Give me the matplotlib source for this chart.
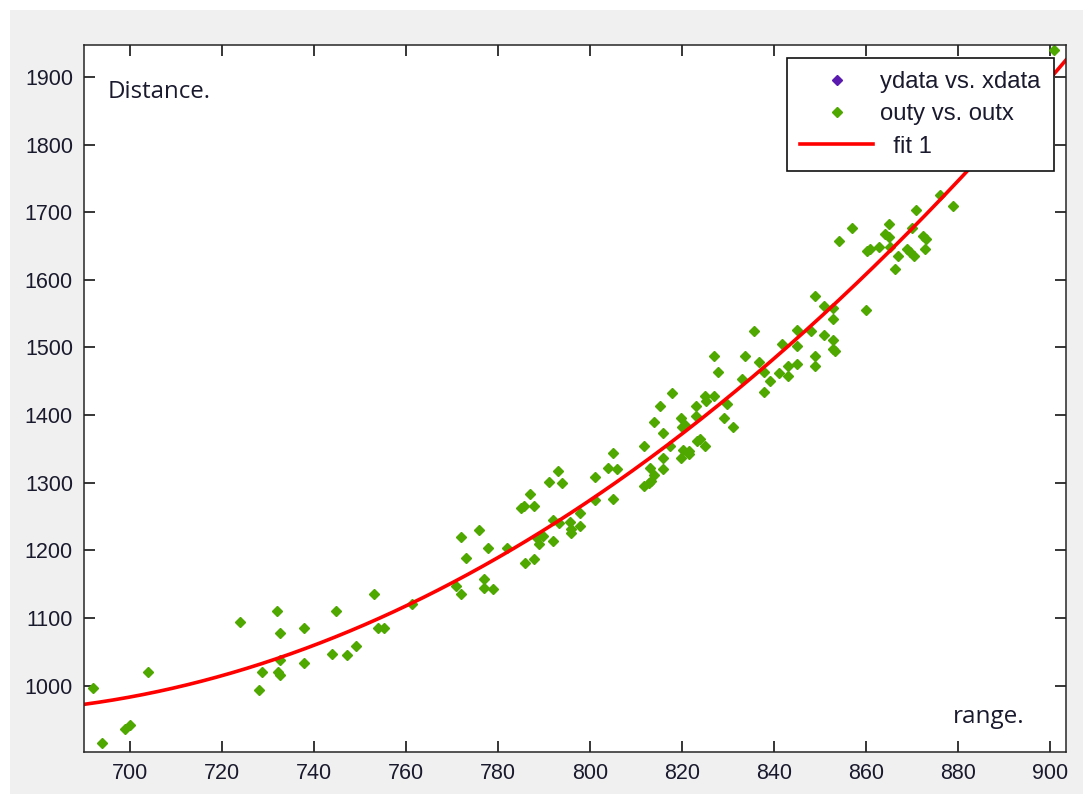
import numpy as np
import matplotlib.pyplot as plt
from matplotlib.patches import Rectangle

# points plotted as "outy vs. outx"
outx = [691.9, 694.0, 698.9, 700.0, 704.0, 723.9, 731.9, 732.6, 728.0, 728.7,
        732.6, 732.6, 732.2, 737.9, 737.9, 744.0, 744.7, 747.1, 749.1, 753.0,
        754.0, 755.2, 761.2, 771.9, 775.9, 773.0, 777.9, 777.0, 777.0, 779.0,
        770.9, 771.9, 781.9, 785.9, 787.9, 789.0, 789.8, 791.9, 788.4, 791.9,
        793.3, 785.0, 785.7, 787.9, 787.0, 791.0, 793.0, 793.8, 795.7, 795.8,
        797.8, 797.8, 795.8, 801.0, 801.0, 803.8, 805.8, 804.9, 804.9, 811.8,
        813.8, 815.8, 813.0, 813.8, 811.7, 812.7, 813.2, 815.8, 815.8, 817.4,
        819.7, 819.9, 820.3, 821.4, 815.1, 817.8, 819.7, 821.6, 820.7, 823.0,
        823.0, 823.2, 823.8, 825.0, 824.9, 825.2, 827.0, 827.0, 827.7, 829.0,
        829.7, 831.0, 833.0, 833.7, 835.7, 836.8, 837.7, 837.7, 839.0, 841.0,
        841.7, 843.0, 843.0, 844.9, 844.9, 844.9, 848.0, 848.9, 848.9, 850.9,
        852.9, 852.9, 852.9, 852.9, 853.3, 850.9, 860.0, 900.9, 876.1, 878.8,
        870.9, 864.9, 856.9, 854.2, 864.1, 864.9, 862.9, 860.1, 860.9, 865.2,
        869.9, 872.3, 873.0, 872.8, 866.9, 868.8, 869.6, 870.3, 866.2, 848.9]
outy = [996, 915, 936, 942, 1020, 1094, 1110, 1078, 993, 1020,
        1038, 1016, 1020, 1085, 1033, 1047, 1110, 1045, 1058, 1135,
        1085, 1085, 1121, 1220, 1230, 1189, 1203, 1157, 1145, 1143,
        1147, 1135, 1204, 1181, 1187, 1210, 1221, 1214, 1219, 1245,
        1240, 1263, 1266, 1265, 1284, 1301, 1317, 1299, 1242, 1231,
        1236, 1255, 1226, 1309, 1274, 1322, 1320, 1344, 1276, 1355,
        1390, 1374, 1322, 1312, 1295, 1300, 1303, 1336, 1320, 1354,
        1336, 1382, 1349, 1347, 1414, 1433, 1396, 1342, 1386, 1414,
        1399, 1362, 1365, 1355, 1428, 1421, 1428, 1488, 1464, 1396,
        1417, 1383, 1454, 1488, 1524, 1478, 1464, 1434, 1450, 1462,
        1505, 1473, 1458, 1526, 1502, 1475, 1524, 1488, 1472, 1518,
        1559, 1542, 1511, 1498, 1495, 1561, 1556, 1940, 1726, 1709,
        1704, 1683, 1676, 1658, 1668, 1663, 1649, 1642, 1645, 1649,
        1676, 1665, 1660, 1646, 1635, 1646, 1641, 1636, 1616, 1576]

# "ydata vs. xdata" has no visible points, it only shows up in the legend
xdata = []
ydata = []

# quadratic fit, coefficients for (x - fit_center)
fit_coef = [0.016617, 4.5725, 1274.3]
fit_center = 800

x_range = (690, 903.4)
y_range = (902.4, 1947.2)

fig = plt.figure(figsize=(10.83, 7.94), dpi=100, facecolor='white')
# grey window background with a thin white strip on the left/top
fig.add_artist(Rectangle((10 / 1083, 0), 1, 784 / 794, transform=fig.transFigure,
                         facecolor='#f0f0f0', edgecolor='none', zorder=-5))

ax = fig.add_axes([0.0776, 0.0533, 0.9065, 0.89])
ax.set_facecolor('white')

ax.plot(xdata, ydata, linestyle='none', marker='D', ms=4.8, color='#5a1ab0',
        label='ydata vs. xdata')
ax.plot(outx, outy, linestyle='none', marker='D', ms=4.8, color='#4fa800',
        label='outy vs. outx', clip_on=False)

xs = np.linspace(x_range[0], x_range[1], 400)
ax.plot(xs, np.polyval(fit_coef, xs - fit_center), color='#ff0000', lw=2.6,
        label='  fit 1')

ax.set_xlim(x_range)
ax.set_ylim(y_range)
ax.set_xticks(np.arange(700, 901, 20))
ax.set_yticks(np.arange(1000, 1901, 100))

tick_color = '#1a1a2e'
ax.tick_params(direction='in', length=8, width=1.1, top=True, right=True,
               labelsize=15.5, labelcolor=tick_color, pad=8)
for lbl in ax.get_xticklabels() + ax.get_yticklabels():
    lbl.set_fontfamily('Liberation Sans')
for sp in ax.spines.values():
    sp.set_linewidth(1.1)
    sp.set_color('#262626')

ax.text(0.0244, 0.925, 'Distance.', transform=ax.transAxes, fontsize=17.3,
        family='Open Sans', color=tick_color, va='baseline', ha='left')
ax.text(0.885, 0.040, 'range.', transform=ax.transAxes, fontsize=17.5,
        family='Open Sans', color=tick_color, va='baseline', ha='left')

leg = ax.legend(loc='upper right', bbox_to_anchor=(0.988, 0.9816), borderaxespad=0,
                fancybox=False, framealpha=1, edgecolor='#111111',
                prop={'family': 'Liberation Sans', 'size': 17.2},
                handlelength=3.05, handletextpad=0.3, labelspacing=0.43,
                borderpad=0.55, markerscale=1.0)
leg.get_frame().set_linewidth(1.2)
for t in leg.get_texts():
    t.set_color(tick_color)

plt.savefig('out.png', dpi=100, facecolor=fig.get_facecolor())
